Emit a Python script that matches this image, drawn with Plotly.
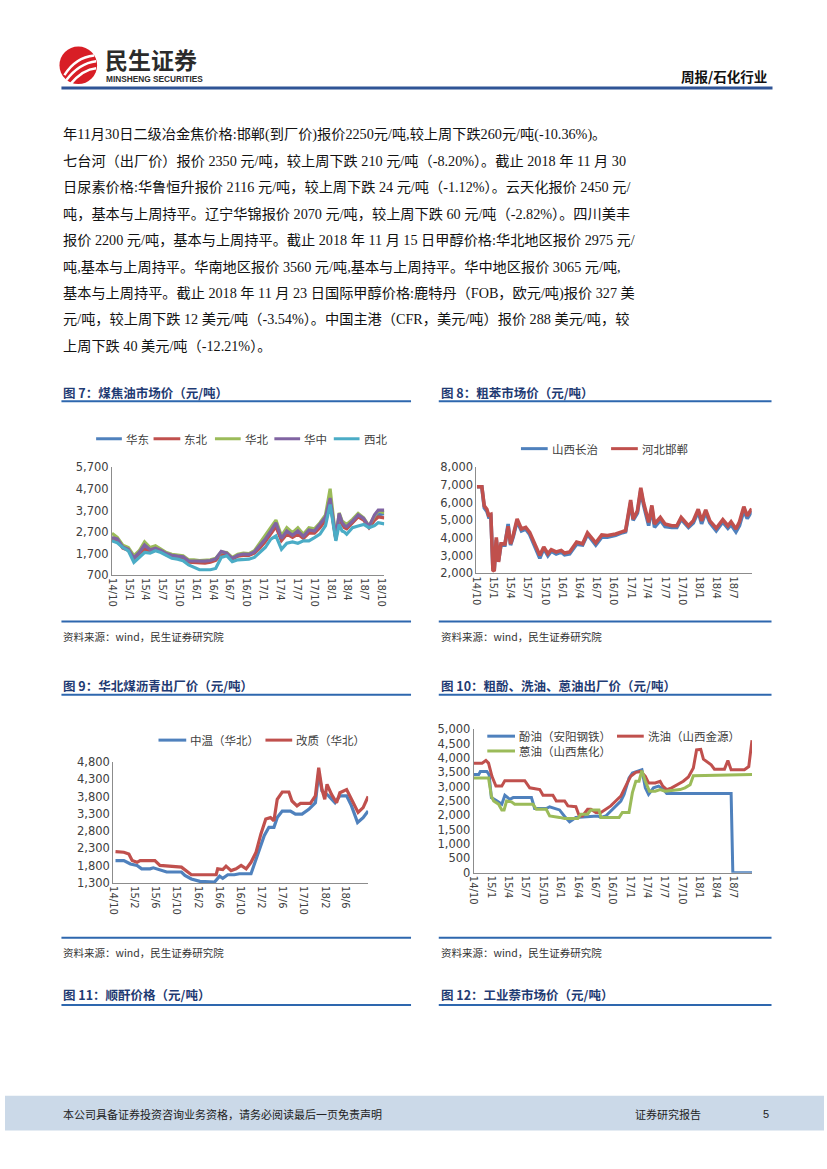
import plotly.graph_objects as go

# ---------------- data ----------------
# Figure 7: coal tar market price (yuan/t)
d7 = ["2014-10-01","2014-10-30","2014-11-29","2014-12-29","2015-01-28","2015-02-26","2015-03-27","2015-04-26",
      "2015-05-25","2015-06-24","2015-07-24","2015-08-22","2015-09-22","2015-10-22","2015-11-21","2015-12-20",
      "2016-01-19","2016-02-18","2016-03-18","2016-04-16","2016-05-16","2016-06-15","2016-07-15","2016-08-14",
      "2016-09-13","2016-10-13","2016-11-12","2016-12-11","2017-01-10","2017-02-09","2017-03-09","2017-04-08",
      "2017-05-07","2017-06-07","2017-07-06","2017-08-05","2017-09-04","2017-10-04","2017-11-03","2017-12-03",
      "2017-12-28","2018-01-28","2018-02-15","2018-03-03","2018-03-16","2018-03-28","2018-04-28","2018-05-29",
      "2018-06-28","2018-07-27","2018-08-26","2018-09-15","2018-10-18"]
huadong = [2400, 2350, 1980, 1880, 1480, 1720, 2000, 1850, 1920, 1820, 1680, 1600, 1560, 1530, 1340,
           1340, 1300, 1320, 1350, 1420, 1700, 1680, 1460, 1600, 1650, 1640, 1750,
           2000, 2300, 2650, 3000, 2350, 2650, 2500, 2650, 2450, 2700, 2700, 2950,
           3300, 4150, 2400, 3450, 3100, 2950, 2900, 3150, 3450, 3300, 2950, 3350, 3500, 3550]
dongbei = [2350, 2300, 1950, 1850, 1450, 1650, 1900, 1820, 1900, 1800, 1650, 1580, 1550, 1500, 1300,
           1290, 1260, 1260, 1300, 1380, 1670, 1650, 1440, 1580, 1620, 1620, 1720,
           1950, 2250, 2600, 2950, 2300, 2600, 2450, 2600, 2400, 2650, 2650, 2900,
           3250, 4100, 2350, 3400, 3050, 2900, 2850, 3100, 3400, 3250, 2900, 3250, 3400, 3360]
huabei = [2640, 2450, 2090, 1980, 1600, 1830, 2240, 1980, 2060, 1900, 1750, 1670, 1630, 1600, 1410,
          1410, 1370, 1400, 1410, 1480, 1780, 1750, 1520, 1670, 1720, 1700, 1830,
          2180, 2550, 2900, 3255, 2520, 2900, 2670, 2900, 2600, 2900, 2850, 3130,
          3500, 4714, 2370, 3590, 3210, 3100, 3050, 3290, 3560, 3360, 2980, 3450, 3680, 3600]
huazhong = [2450, 2380, 2000, 1900, 1500, 1750, 2100, 1880, 1950, 1850, 1700, 1620, 1580, 1550, 1360,
            1360, 1330, 1350, 1380, 1450, 1800, 1720, 1480, 1620, 1680, 1660, 1780,
            2060, 2370, 2750, 3130, 2400, 2750, 2550, 2750, 2500, 2800, 2750, 3050,
            3400, 4280, 2440, 3560, 3150, 3000, 2950, 3210, 3500, 3330, 2950, 3500, 3720, 3720]
xibei = [2290, 2200, 1980, 1830, 1290, 1520, 1750, 1720, 1830, 1750, 1600, 1480, 1440, 1370, 1170,
         1060, 950, 950, 950, 1010, 1520, 1600, 1320, 1410, 1440, 1440, 1520,
         1750, 1980, 2370, 2520, 1900, 2180, 2240, 2180, 2290, 2290, 2440, 2600,
         3000, 3980, 2290, 3050, 2750, 2700, 2600, 2900, 2980, 3050, 2900, 3000, 3130, 3080]

# Figure 8: crude benzene market price (yuan/t)
d8 = ["2014-10-04","2014-10-30","2014-11-12","2014-11-26","2014-12-05","2014-12-17","2014-12-28",
      "2015-01-04","2015-01-15","2015-01-27","2015-02-09","2015-03-02","2015-03-19","2015-04-01","2015-04-15",
      "2015-05-06","2015-05-29","2015-06-21","2015-07-12","2015-07-30","2015-09-04","2015-09-25","2015-10-17",
      "2015-11-04","2015-11-30","2015-12-27",
      "2016-01-14","2016-02-10","2016-03-18","2016-04-19","2016-05-15","2016-06-28","2016-07-30","2016-08-29",
      "2016-10-12","2016-11-17","2016-12-04","2016-12-31",
      "2017-01-13","2017-02-05","2017-02-23","2017-03-10","2017-04-06","2017-04-23","2017-05-07","2017-06-07",
      "2017-07-02","2017-08-07","2017-09-03","2017-09-26","2017-11-04","2017-11-30","2017-12-26",
      "2018-01-13","2018-02-04","2018-02-26","2018-04-01","2018-05-06","2018-06-02","2018-06-19","2018-07-15",
      "2018-08-03","2018-08-26","2018-09-13","2018-10-07"]
shanxi_changzhi = [6890, 6890, 5700, 5500, 5200, 5250, 2300,
                   2200, 3900, 2700, 3600, 3600, 4790, 3600, 4050, 4950, 4400, 4500, 4200, 3750, 2850, 3400,
                   3000, 3250, 3100, 3200,
                   3050, 3100, 3650, 3600, 4200, 3600, 4050, 4050, 4150, 4300, 4350, 6000,
                   5000, 5400, 6700, 5850, 4700, 5700, 4600, 5000, 4650, 4600, 4600, 5050, 4600, 4850, 5500,
                   4800, 5450, 4850, 4400, 4900, 4550, 4750, 4350, 4700, 5550, 5100, 5500]
hebei_handan = [6890, 6890, 5810, 5620, 5290, 5340, 2190,
                2130, 4040, 2650, 3670, 3670, 4660, 3670, 4140, 5070, 4510, 4600, 4320, 3860, 3020, 3490,
                3110, 3340, 3210, 3300,
                3150, 3210, 3770, 3670, 4290, 3730, 4170, 4140, 4230, 4360, 4420, 6140,
                5070, 5530, 6830, 5990, 4880, 5840, 4790, 5160, 4790, 4690, 4690, 5160, 4690, 4970, 5620,
                4970, 5590, 4970, 4550, 5030, 4690, 4920, 4510, 4920, 5770, 5250, 5660]

# Figure 9: North China coal pitch ex-works price (yuan/t)
d9_mid = ["2014-10-14","2014-12-01","2015-01-08","2015-02-15","2015-03-14","2015-05-01","2015-05-20",
          "2015-07-07","2015-08-05","2015-10-29","2015-11-18","2015-12-25","2016-02-12","2016-05-07",
          "2016-06-05","2016-06-23","2016-07-22","2016-08-29","2016-09-27","2016-12-03","2017-01-20",
          "2017-02-17","2017-03-16","2017-04-14","2017-05-03","2017-06-01","2017-07-18","2017-08-16",
          "2017-09-23","2017-11-01","2017-12-09","2017-12-28","2018-01-16","2018-02-23","2018-04-01",
          "2018-04-29","2018-06-07","2018-07-05","2018-08-09","2018-09-10","2018-10-09"]
pitch_mid = [1950, 1950, 1850, 1810, 1710, 1710, 1740, 1660, 1620, 1620, 1520, 1420, 1350, 1330,
             1500, 1440, 1540, 1540, 1570, 1570, 2280, 2670, 2910, 2910, 3190, 3380, 3380, 3290,
             3290, 3430, 3620, 4480, 3960, 3820, 3620, 3820, 3820, 3530, 3050, 3190, 3380]
d9_mod = ["2014-10-14","2014-12-01","2014-12-30","2015-01-18","2015-02-15","2015-03-05","2015-05-29",
          "2015-06-27","2015-10-29","2015-11-27","2015-12-25","2016-05-16","2016-05-25","2016-06-23",
          "2016-07-12","2016-08-10","2016-09-08","2016-10-07","2016-11-05","2016-12-03","2017-01-01",
          "2017-01-29","2017-02-26","2017-03-25","2017-04-14","2017-05-03","2017-06-01","2017-07-09",
          "2017-07-27","2017-08-25","2017-09-14","2017-11-10","2017-12-09","2017-12-28","2018-01-16",
          "2018-02-01","2018-02-14","2018-03-12","2018-04-10","2018-04-29","2018-06-07","2018-07-05",
          "2018-08-12","2018-09-10","2018-10-09"]
pitch_mod = [2208, 2190, 2140, 1950, 1900, 1950, 1950, 1810, 1760, 1660, 1540, 1540, 1710, 1690,
             1790, 1660, 1710, 1810, 1710, 1900, 2190, 2720, 3150, 3190, 3100, 3720, 3930, 3930,
             3670, 3530, 3600, 3600, 3820, 4630, 4000, 3720, 4150, 3860, 3620, 3910, 4000, 3720,
             3340, 3480, 3800]

# Figure 10: crude phenol oil / wash oil / anthracene oil ex-works price (yuan/t)
d10_phenol = ["2014-10-01","2014-10-27","2014-11-05","2014-12-09","2014-12-21","2015-01-02","2015-02-01",
              "2015-02-26","2015-03-14","2015-04-09","2015-04-27","2015-08-01","2015-08-18","2015-10-18",
              "2015-11-05","2015-12-27","2016-01-23","2016-02-18","2016-03-05","2016-03-22","2016-07-14",
              "2016-08-01","2016-08-27","2016-09-22","2016-10-18","2016-11-14","2016-12-01","2016-12-27",
              "2017-01-14","2017-02-09","2017-03-05","2017-03-23","2017-04-09","2017-05-05","2017-06-01",
              "2017-06-27","2017-07-14","2018-06-18","2018-06-27","2018-10-06"]
phenol_oil = [3420, 3420, 3530, 3530, 3420, 2620, 2500, 2390, 2700, 2560, 2620, 2620, 2240, 2240,
              2300, 2190, 1960, 1780, 1850, 1930, 1980, 1930, 1980, 2160, 2350, 2500, 2730, 3300,
              3480, 3530, 3590, 2960, 2730, 2960, 3020, 2900, 2760, 2760, 0, 0]
d10_wash = ["2014-10-01","2014-11-14","2014-12-04","2014-12-18","2015-01-05","2015-01-26","2015-02-26",
            "2015-03-14","2015-06-27","2015-07-23","2015-09-14","2015-10-01","2015-11-22","2015-12-10",
            "2016-01-23","2016-02-09","2016-03-22","2016-04-09","2016-04-26","2016-05-23","2016-06-09",
            "2016-07-05","2016-08-01","2016-08-27","2016-09-22","2016-10-18","2016-11-14","2016-12-18",
            "2017-01-05","2017-02-01","2017-02-27","2017-03-23","2017-04-09","2017-05-14","2017-06-09",
            "2017-06-23","2017-07-14","2017-08-09","2017-09-05","2017-10-09","2017-11-05","2017-12-01",
            "2017-12-18","2018-01-09","2018-01-23","2018-02-09","2018-03-05","2018-03-22","2018-05-14",
            "2018-06-01","2018-06-18","2018-08-27","2018-09-19","2018-10-06"]
wash_oil = [3820, 3820, 3910, 3820, 3360, 3020, 3020, 3210, 3210, 2960, 2900, 2700, 2700, 2500,
            2500, 2330, 2300, 1980, 1980, 2210, 2210, 2100, 2100, 2210, 2330, 2500, 2670, 3130,
            3360, 3500, 3530, 3360, 3130, 3130, 3190, 3020, 2900, 2960, 3070, 3190, 3340, 3650,
            4280, 4300, 3960, 3880, 3760, 3610, 3610, 3910, 3590, 3590, 3700, 4620]
d10_anthra = ["2014-10-01","2014-12-18","2015-01-02","2015-01-14","2015-02-09","2015-02-26","2015-03-10",
              "2015-03-23","2015-04-18","2015-05-05","2015-08-09","2015-08-27","2015-10-18","2015-11-05",
              "2015-12-27","2016-01-23","2016-04-01","2016-04-18","2016-05-23","2016-06-09","2016-07-22",
              "2016-08-01","2016-11-05","2016-11-22","2016-12-27","2017-01-14","2017-02-01","2017-02-18",
              "2017-03-05","2017-03-23","2017-04-14","2017-05-14","2017-06-09","2017-07-05","2017-09-22",
              "2017-10-18","2017-11-14","2017-12-01","2018-10-06"]
anthracene_oil = [3300, 3300, 2670, 2500, 2390, 2190, 2190, 2500, 2470, 2390, 2390, 2210, 2210, 1980,
                  1930, 1890, 1890, 2040, 2040, 2190, 2190, 1930, 1930, 2100, 2100, 2790, 3190, 3190,
                  3560, 3190, 2840, 2840, 2900, 2840, 2900, 2960, 3070, 3380, 3420]

# tick labels
q_vals = ["2014-10-01","2015-01-01","2015-04-01","2015-07-01","2015-10-01","2016-01-01","2016-04-01",
          "2016-07-01","2016-10-01","2017-01-01","2017-04-01","2017-07-01","2017-10-01","2018-01-01",
          "2018-04-01","2018-07-01","2018-10-01"]
q_text = ["14/10","15/1","15/4","15/7","15/10","16/1","16/4","16/7","16/10","17/1","17/4","17/7",
          "17/10","18/1","18/4","18/7","18/10"]
m4_vals = ["2014-10-01","2015-02-01","2015-06-01","2015-10-01","2016-02-01","2016-06-01","2016-10-01",
           "2017-02-01","2017-06-01","2017-10-01","2018-02-01","2018-06-01"]
m4_text = ["14/10","15/2","15/6","15/10","16/2","16/6","16/10","17/2","17/6","17/10","18/2","18/6"]

body_lines = [
    "年11月30日二级冶金焦价格:邯郸(到厂价)报价2250元/吨,较上周下跌260元/吨(-10.36%)。",
    "七台河（出厂价）报价 2350 元/吨，较上周下跌 210 元/吨（-8.20%）。截止 2018 年 11 月 30",
    "日尿素价格:华鲁恒升报价 2116 元/吨，较上周下跌 24 元/吨（-1.12%）。云天化报价 2450 元/",
    "吨，基本与上周持平。辽宁华锦报价 2070 元/吨，较上周下跌 60 元/吨（-2.82%）。四川美丰",
    "报价 2200 元/吨，基本与上周持平。截止 2018 年 11 月 15 日甲醇价格:华北地区报价 2975 元/",
    "吨,基本与上周持平。华南地区报价 3560 元/吨,基本与上周持平。华中地区报价 3065 元/吨,",
    "基本与上周持平。截止 2018 年 11 月 23 日国际甲醇价格:鹿特丹（FOB，欧元/吨)报价 327 美",
    "元/吨，较上周下跌 12 美元/吨（-3.54%）。中国主港（CFR，美元/吨）报价 288 美元/吨，较",
    "上周下跌 40 美元/吨（-12.21%）。",
]

# ---------------- helpers ----------------
W, H = 827, 1169
def fx(x): return x / W
def fy(y): return 1 - y / H

BLUE, RED, GREEN, PURPLE, CYAN = "#4F81BD", "#C0504D", "#9BBB59", "#8064A2", "#4BACC6"
CJK = "Noto Sans CJK SC"
TITLE_C = "#1F3B73"
RULE_C = "#2E67AE"

fig = go.Figure()

def line(x, y, color, width, xa, ya, name):
    fig.add_trace(go.Scatter(x=x, y=y, mode="lines", name=name, showlegend=False, hoverinfo="skip",
                             line=dict(color=color, width=width), xaxis=xa, yaxis=ya))

line(d7, huadong, BLUE, 3.2, "x", "y", "华东")
line(d7, dongbei, RED, 3.2, "x", "y", "东北")
line(d7, huabei, GREEN, 3.2, "x", "y", "华北")
line(d7, huazhong, PURPLE, 3.2, "x", "y", "华中")
line(d7, xibei, CYAN, 3.2, "x", "y", "西北")

line(d8, shanxi_changzhi, BLUE, 3.6, "x2", "y2", "山西长治")
line(d8, hebei_handan, RED, 3.6, "x2", "y2", "河北邯郸")

line(d9_mid, pitch_mid, BLUE, 3.2, "x3", "y3", "中温（华北）")
line(d9_mod, pitch_mod, RED, 3.2, "x3", "y3", "改质（华北）")

line(d10_phenol, phenol_oil, BLUE, 3, "x4", "y4", "酚油（安阳钢铁）")
line(d10_wash, wash_oil, RED, 3, "x4", "y4", "洗油（山西金源）")
line(d10_anthra, anthracene_oil, GREEN, 3, "x4", "y4", "蒽油（山西焦化）")

xtick_font = dict(family="DejaVu Sans", size=10, color="#404040")
ytick_font = dict(family="DejaVu Sans", size=11.5, color="#404040")

def xax(l, r, rng, tv, tt, anchor):
    return dict(domain=[fx(l), fx(r)], anchor=anchor, type="date", range=rng, tickmode="array",
                tickvals=tv, ticktext=tt, tickangle=90, showline=True, linecolor="#8C8C8C",
                linewidth=1, showgrid=False, zeroline=False, ticks="", tickfont=xtick_font,
                fixedrange=True)

def yax(top, bottom, rng, dtick, anchor):
    return dict(domain=[fy(bottom), fy(top)], anchor=anchor, range=rng, tickmode="linear",
                tick0=rng[0], dtick=dtick, tickformat=",d", showline=True, linecolor="#8C8C8C",
                linewidth=1, showgrid=False, zeroline=False, ticks="", tickfont=ytick_font,
                fixedrange=True)

shapes = []
annos = []

def text(t, x, y, size, color="#000000", family=CJK, xanchor="left", bold=False):
    if bold:
        t = "<b>" + t + "</b>"
    annos.append(dict(text=t, x=fx(x), y=fy(y), xref="paper", yref="paper", showarrow=False,
                      xanchor=xanchor, yanchor="middle", font=dict(size=size, color=color, family=family)))

def hline(x0, x1, y, color, width):
    shapes.append(dict(type="line", xref="paper", yref="paper", x0=fx(x0), x1=fx(x1), y0=fy(y), y1=fy(y),
                       line=dict(color=color, width=width)))

def legend_item(x0, x1, y, color, label):
    hline(x0, x1, y, color, 3)
    text(label, x1 + 2, y, 11.5, "#404040")

# ---------- header ----------
shapes.append(dict(type="circle", xref="paper", yref="paper", x0=fx(55), x1=fx(93), y0=fy(78), y1=fy(40),
                   fillcolor="#D81E26", line=dict(width=0)))
for (a, b, c) in [((60, 69), (71, 51), (90, 49)), ((62, 74), (75, 57), (92, 55)), ((66, 78), (79, 63), (92, 62))]:
    p = "M {} {} Q {} {} {} {}".format(fx(a[0]), fy(a[1]), fx(b[0]), fy(b[1]), fx(c[0]), fy(c[1]))
    shapes.append(dict(type="path", xref="paper", yref="paper", path=p, line=dict(color="white", width=2.5)))
text("民生证券", 99, 53, 23, "#2B2B2B", bold=True)
text("MINSHENG SECURITIES", 100, 73, 8.3, "#2B2B2B", family="Liberation Sans", bold=True)
text("周报/石化行业", 771, 70, 13.5, "#111111", xanchor="right", bold=True)
hline(57, 775, 82, "#2F5496", 3)

# ---------- body text ----------
for i, s in enumerate(body_lines):
    text(s, 57, 129 + 26.75 * i, 14.2, "#111111", family="Liberation Serif, " + CJK)

# ---------- chart frames ----------
def frame(xl, xr, title, ty, rule_y, bottom_y=None, src_y=None):
    text(title, xl, ty, 12.5, TITLE_C, bold=True)
    hline(xl, xr, rule_y, RULE_C, 2)
    if bottom_y is not None:
        hline(xl, xr, bottom_y, RULE_C, 2)
        text("资料来源：wind，民生证券研究院", xl, src_y, 10.5, "#333333")

frame(57, 410, "图 7：煤焦油市场价（元/吨）", 390, 399, 622, 637)
frame(438, 774, "图 8：粗苯市场价（元/吨）", 390, 399, 622, 637)
frame(57, 410, "图 9：华北煤沥青出厂价（元/吨）", 687, 696, 942, 957)
frame(438, 774, "图 10：粗酚、洗油、蒽油出厂价（元/吨）", 687, 696, 942, 957)
frame(57, 410, "图 11：顺酐价格（元/吨）", 999, 1010)
frame(438, 774, "图 12：工业萘市场价（元/吨）", 999, 1010)

# ---------- legends ----------
legend_item(92, 118, 437, BLUE, "华东")
legend_item(150, 177, 437, RED, "东北")
legend_item(212, 238, 437, GREEN, "华北")
legend_item(272, 298, 437, PURPLE, "华中")
legend_item(332, 358, 437, CYAN, "西北")

legend_item(521, 548, 447, BLUE, "山西长治")
legend_item(612, 639, 447, RED, "河北邯郸")

legend_item(155, 183, 742, BLUE, "中温（华北）")
legend_item(263, 290, 742, RED, "改质（华北）")

legend_item(487, 515, 738, BLUE, "酚油（安阳钢铁）")
legend_item(618, 645, 738, RED, "洗油（山西金源）")
legend_item(487, 515, 753, GREEN, "蒽油（山西焦化）")

# ---------- footer ----------
shapes.append(dict(type="rect", xref="paper", yref="paper", x0=0, x1=1, y0=fy(1137), y1=fy(1102),
                   fillcolor="#CBD9E8", line=dict(width=0), layer="below"))
text("本公司具备证券投资咨询业务资格，请务必阅读最后一页免责声明", 57, 1120, 11, "#222222")
text("证券研究报告", 634, 1120, 11, "#222222")
text("5", 763, 1120, 11, "#222222", family="Liberation Sans")

fig.update_layout(
    width=W, height=H, autosize=False,
    margin=dict(l=0, r=0, t=0, b=0),
    paper_bgcolor="white", plot_bgcolor="white",
    showlegend=False,
    xaxis=xax(108, 383, ["2014-10-01", "2018-10-18"], q_vals, q_text, "y"),
    yaxis=yax(466, 575, [700, 5700], 1000, "x"),
    xaxis2=xax(476, 754, ["2014-10-01", "2018-10-07"], q_vals[:16], q_text[:16], "y2"),
    yaxis2=yax(465.7, 573.3, [2000, 8000], 1000, "x2"),
    xaxis3=xax(109.3, 366.7, ["2014-10-01", "2018-10-09"], m4_vals, m4_text, "y3"),
    yaxis3=yax(764, 886.7, [1300, 4800], 500, "x3"),
    xaxis4=xax(473.3, 754.3, ["2014-10-01", "2018-10-06"], q_vals[:16], q_text[:16], "y4"),
    yaxis4=yax(731, 876.3, [0, 5000], 500, "x4"),
    shapes=shapes,
    annotations=annos,
)

fig.write_html("out.html", config={"displayModeBar": False, "staticPlot": True},
               post_script="document.body.style.margin='0';document.body.style.overflow='hidden';")
